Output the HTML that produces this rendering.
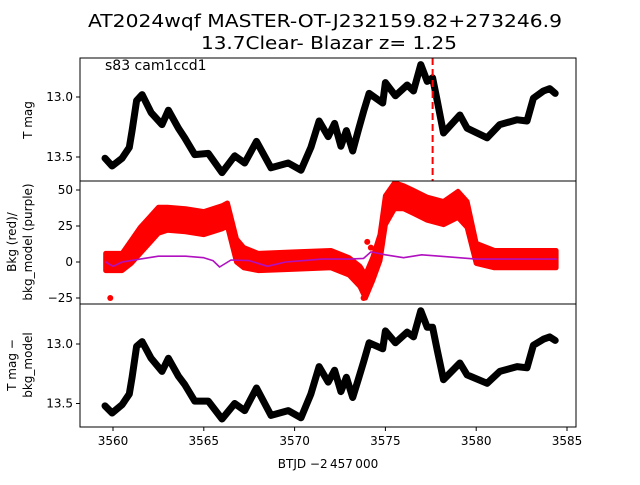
<!DOCTYPE html>
<html><head><meta charset="utf-8"><style>
html,body{margin:0;padding:0;background:#fff;}
svg text{font-family:"DejaVu Sans","Liberation Sans",sans-serif;fill:#000;}
</style></head><body>
<svg id="chart" width="640" height="480" viewBox="0 0 640 480" xmlns="http://www.w3.org/2000/svg">
<rect width="640" height="480" fill="#fff"/>
<text x="88" y="27" font-size="18" textLength="474" lengthAdjust="spacingAndGlyphs">AT2024wqf  MASTER-OT-J232159.82+273246.9</text>
<text x="201" y="49" font-size="18" textLength="256" lengthAdjust="spacingAndGlyphs">13.7Clear- Blazar z= 1.25</text>
<g id="plots"></g>
</svg>
<script>
const magT=[3559.56,3559.95,3560.5,3560.9,3561.05,3561.3,3561.6,3562.1,3562.7,3563.05,3563.6,3563.95,3564.5,3565.25,3566.0,3566.7,3567.25,3567.9,3568.7,3569.65,3570.35,3570.9,3571.35,3571.85,3572.2,3572.55,3572.85,3573.2,3573.5,3573.8,3574.1,3574.85,3575.0,3575.55,3576.2,3576.55,3576.95,3577.3,3577.6,3577.85,3578.2,3579.1,3579.5,3580.6,3581.3,3582.25,3582.8,3583.15,3583.7,3584.05,3584.35];
const magV=[13.51,13.575,13.51,13.42,13.28,13.03,12.98,13.13,13.23,13.11,13.26,13.34,13.48,13.47,13.63,13.49,13.55,13.37,13.59,13.55,13.61,13.42,13.2,13.33,13.22,13.41,13.28,13.45,13.28,13.12,12.97,13.05,12.88,12.99,12.9,12.95,12.73,12.87,12.84,13.03,13.3,13.15,13.26,13.34,13.23,13.19,13.2,13.01,12.95,12.93,12.97];
const corrV=[13.52,13.58,13.51,13.42,13.28,13.02,12.98,13.12,13.23,13.12,13.27,13.34,13.48,13.48,13.63,13.5,13.56,13.37,13.6,13.56,13.62,13.42,13.19,13.32,13.22,13.4,13.28,13.45,13.3,13.15,12.99,13.04,12.89,12.99,12.9,12.94,12.72,12.86,12.86,13.05,13.3,13.16,13.26,13.33,13.23,13.19,13.2,13.01,12.96,12.94,12.97];
const bkgT=[3559.6,3560.5,3561.0,3561.5,3562.0,3562.5,3563.0,3564.0,3565.0,3566.0,3566.3,3566.8,3567.2,3568.0,3570.0,3572.0,3573.0,3573.6,3573.9,3574.3,3574.7,3575.0,3575.5,3576.0,3576.5,3577.3,3578.2,3579.0,3579.5,3580.0,3581.0,3584.4];
const bkgV=[0,0,7,15,22,29,30,29,27,31,33,8,3,0,1,2,-3,-10,-17,-5,10,36,46,45,42,37,34,40,33,6,2,2];
const bkgW=[6,6,8,9,9,9,8,8,8,8,8,8,7,6,6,6,6,7,8,8,9,10,9,8,8,8,8,9,9,7,6,6];
const modT=[3559.6,3560.0,3560.5,3561.5,3562.5,3564.0,3565.0,3565.5,3565.87,3566.5,3567.5,3568.5,3569.5,3570.5,3571.5,3573.0,3573.8,3574.2,3575.0,3576.0,3577.0,3578.0,3580.0,3584.4];
const modV=[0,-3,0,2,4,4,3,1,-3.5,1.4,1,-3,0,1,2,2,2.5,7,5,3,5,4,2,2];
const outT=[3559.85,3573.8,3561.4,3562.3,3574.0,3574.2];
const outV=[-25,-25,14,20,14,10];
const xTicks=[3560,3565,3570,3575,3580,3585];
const magTicks=["13.0","13.5"];
const bkgTicks=["50","25","0","\u221225"];
const bkgTickVals=[50,25,0,-25];

const NS="http://www.w3.org/2000/svg";
const g=document.getElementById('plots');
const L=80,R=576;
const X=t=>113+(t-3560)*18.16;
const P1={top:58,bot:181},P2={top:181,bot:304},P3={top:304,bot:427};
const Y1=m=>97+(m-13.0)*120;
const Y2=v=>262-v*1.44;
const Y3=m=>344+(m-13.0)*119;
function el(tag,attrs,parent){const e=document.createElementNS(NS,tag);for(const k in attrs)e.setAttribute(k,attrs[k]);(parent||g).appendChild(e);return e;}

const defs=el('defs',{});
[[P1,'c1'],[P2,'c2'],[P3,'c3']].forEach(([p,id])=>{const c=el('clipPath',{id:id},defs);el('rect',{x:L,y:p.top,width:R-L,height:p.bot-p.top},c);});

function line(ts,vs,fy,stroke,w,clip,name){
  const pts=ts.map((t,i)=>X(t).toFixed(1)+','+fy(vs[i]).toFixed(1)).join(' ');
  const p=el('polyline',{points:pts,fill:'none',stroke:stroke,'stroke-width':w,'stroke-linejoin':'round','stroke-linecap':'round','clip-path':'url(#'+clip+')'});
  
  
}
line(magT,magV,Y1,'#000',7,'c1','tmag-series');
const dl=el('line',{x1:X(3577.6),x2:X(3577.6),y1:P1.top,y2:P1.bot,stroke:'#f00','stroke-width':2,'stroke-dasharray':'7,4'});


const up=bkgT.map((t,i)=>X(t).toFixed(1)+','+Y2(bkgV[i]+bkgW[i]).toFixed(1));
const dn=bkgT.map((t,i)=>X(t).toFixed(1)+','+Y2(bkgV[i]-bkgW[i]).toFixed(1)).reverse();
const band=el('polygon',{points:up.concat(dn).join(' '),fill:'#f00',stroke:'#f00','stroke-width':5,'stroke-linejoin':'round','clip-path':'url(#c2)'});


outT.forEach((t,i)=>{const c=el('circle',{cx:X(t),cy:Y2(outV[i]),r:3,fill:'#f00'});

});
line(modT,modV,Y2,'#b010c0',1.6,'c2','bkg-model-series');
line(magT,corrV,Y3,'#000',7,'c3','tmag-corrected-series');

function frame(p,name){const r=el('rect',{x:L,y:p.top,width:R-L,height:p.bot-p.top,fill:'none',stroke:'#000','stroke-width':1});

}
frame(P1,'panel-tmag');frame(P2,'panel-background');frame(P3,'panel-corrected');
function yTicks(labels,vals,fy,pname){labels.forEach((lab,i)=>{const y=fy(vals[i]);
el('line',{x1:L-4,x2:L,y1:y,y2:y,stroke:'#000'});
const t=el('text',{x:L-7,y:y+4,'font-size':12,'text-anchor':'end'});t.textContent=lab;

});}
yTicks(magTicks,magTicks.map(Number),Y1,'tmag');
yTicks(bkgTicks,bkgTickVals,Y2,'bkg');
yTicks(magTicks,magTicks.map(Number),Y3,'corr');
xTicks.forEach(v=>{const x=X(v);
el('line',{x1:x,x2:x,y1:P3.bot,y2:P3.bot+4,stroke:'#000'});
const t=el('text',{x:x,y:P3.bot+18,'font-size':12,'text-anchor':'middle'});t.textContent=String(v);

});
function txt(s,x,y,size,name,rot,anchor){const t=el('text',{x:x,y:y,'font-size':size,'text-anchor':anchor||'middle'});
if(rot)t.setAttribute('transform','rotate(-90 '+x+' '+y+')');t.textContent=s;

}
txt('s83 cam1ccd1',105,70,14,'sector-label',false,'start');
txt('T mag',32,120,12,'y-axis-title-tmag',true);
txt('Bkg (red)/',16,242,12,'y-axis-title-bkg-line1',true);
txt('bkg_model (purple)',32,242,12,'y-axis-title-bkg-line2',true);
txt('T mag \u2212',16,365,12,'y-axis-title-corr-line1',true);
txt('bkg_model',32,365,12,'y-axis-title-corr-line2',true);
txt('BTJD \u22122\u2009457\u2009000',328,468,12,'x-axis-title');
</script>
</body></html>
